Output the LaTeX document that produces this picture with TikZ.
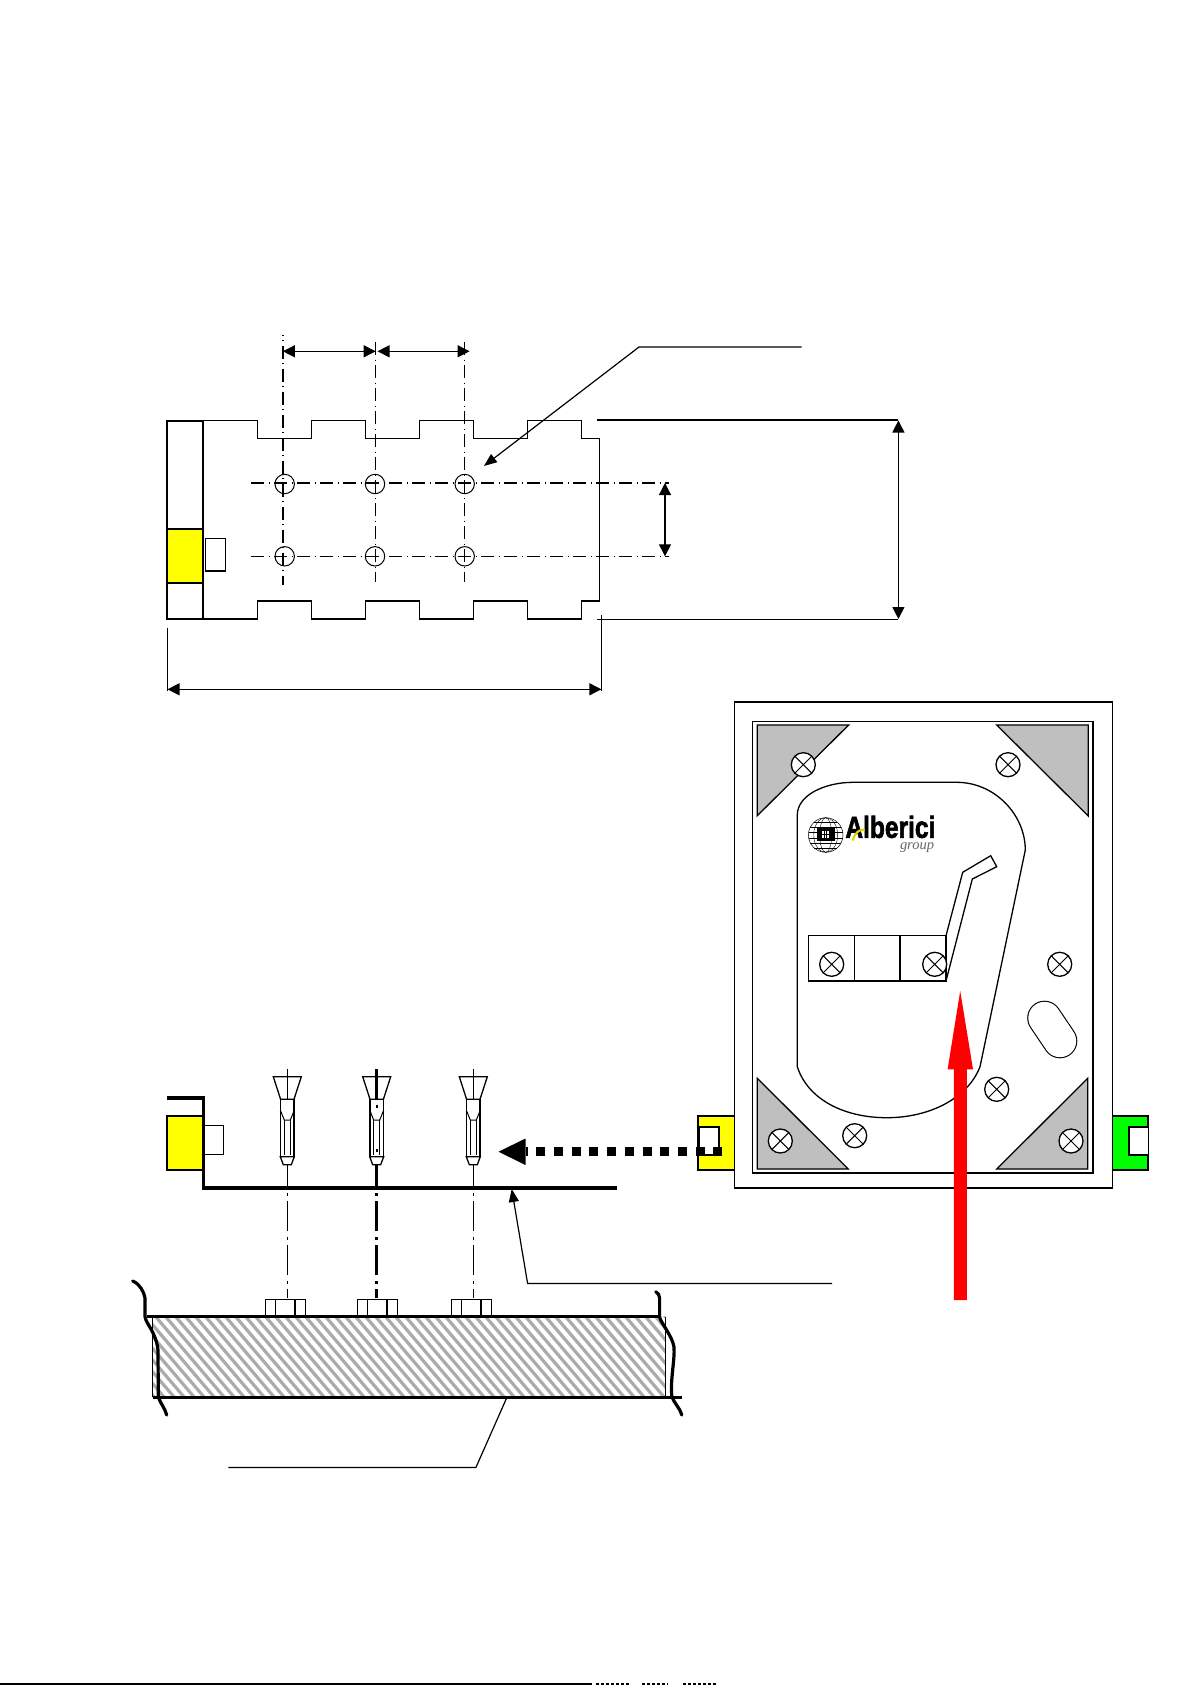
\documentclass[tikz,border=0pt]{standalone}
\usepackage{fontspec}
\setmainfont{Liberation Sans}
\newfontfamily\logoserif{Liberation Serif}
\newfontfamily\logobold[FakeBold=2.2]{Liberation Sans Bold}
\usetikzlibrary{arrows.meta}
\definecolor{plategray}{HTML}{BFBFBF}
\definecolor{hatchgray}{HTML}{ABABAB}
\definecolor{tabyellow}{RGB}{255,255,0}
\definecolor{tabgreen}{RGB}{0,255,0}
\definecolor{markred}{RGB}{255,0,0}
\tikzset{
  thinln/.style={line width=0.5pt},
  medln/.style={line width=0.65pt},
  boxln/.style={line width=0.85pt},
  heavyln/.style={line width=1.8pt},
  axisln/.style={line width=0.45pt,dash pattern=on 15pt off 2.75pt on 1.5pt off 2.75pt},
  gridaxis/.style={dash pattern=on 6.5pt off 2.25pt on 0.5pt off 2.25pt},
  dimarrow/.style={line width=0.6pt,{Triangle[length=6pt,width=6pt]}-{Triangle[length=6pt,width=6pt]}},
  leadarrow/.style={line width=0.6pt,-{Triangle[length=6.5pt,width=5pt]}},
  breakln/.style={line width=1.6pt,line cap=round,line join=round},
}
\newcommand{\xscrew}[2]{%
  \draw[medln,fill=white] (#1,#2) circle[radius=12];
  \draw[thinln] (#1-8.5,#2-8.5) -- (#1+8.5,#2+8.5) (#1-8.5,#2+8.5) -- (#1+8.5,#2-8.5);
}
\newcommand{\holemark}[2]{\draw[thinln] (#1,#2) circle[radius=9.7];}
\newcommand{\boltanchor}[1]{%
  \begin{scope}[shift={(#1,0)}]
    \draw[medln] (-14,1076.7) -- (14,1076.7) -- (6.7,1099.3) -- (-6.7,1099.3) -- cycle;
    \draw[medln,fill=white] (-6.7,1099.3) -- (6.7,1099.3) -- (6.7,1156.7) -- (-6.7,1156.7) -- cycle;
    \draw[thinln] (-6.7,1111) -- (-3,1120) -- (3,1120) -- (6.7,1111);
    \draw[thinln] (-3,1120) -- (-3,1155) (3,1120) -- (3,1155);
    \draw[thinln] (-7,1111) -- (-6,1113) (7,1111) -- (6,1113);
    \draw[medln,fill=white] (-7,1156.7) -- (7,1156.7) -- (4,1164.7) -- (-4,1164.7) -- cycle;
  \end{scope}
}
\newcommand{\nutblock}[1]{%
  \draw[medln] (#1,1316.7) -- (#1,1299.3) -- (#1+40,1299.3) -- (#1+40,1316.7);
  \draw[medln] (#1+10,1299.3) -- (#1+10,1316.7);
  \draw[boxln] (#1+30,1299.3) -- (#1+30,1316.7);
}
\begin{document}
\begin{tikzpicture}[x=0.5pt,y=-0.5pt]
\useasboundingbox (0,0) rectangle (1191,1685);
\fill[white] (0,0) rectangle (1191,1685);

% ---------- top view
\draw[gridaxis,dash phase=6.25pt,line width=0.75pt] (282.9,335) -- (282.9,585);
\draw[gridaxis,dash phase=9.5pt,line width=0.75pt] (375.7,338) -- (375.7,582);
\draw[gridaxis,dash phase=9.5pt,line width=0.45pt] (464.3,338) -- (464.3,582);
\draw[gridaxis,line width=0.8pt] (251,483) -- (668.6,483);
\draw[gridaxis,line width=0.45pt] (251,556.3) -- (668.6,556.3);
\foreach \hx in {284.7,375,464.7} {\holemark{\hx}{484}\holemark{\hx}{556.3}}

\fill[tabyellow] (166.8,529.3) rectangle (203.2,582.7);
\draw[boxln] (166.8,420.7) rectangle (203.2,619);
\draw[boxln] (166.8,529.3) -- (203.2,529.3) (166.8,582.7) -- (203.2,582.7);
\draw[medln] (205.7,538.7) rectangle (225.7,571);
\draw[medln,line join=miter] (203.2,420.7) -- (257.5,420.7) |- (311.4,438.7) |- (365.4,420.7) |- (419.3,438.7) |- (473.2,420.7) |- (527.5,438.7) |- (581.4,420.7) |- (599.3,438.7)
  -- (599.3,601) -- (581.4,601) |- (527.5,619) |- (473.2,601) |- (419.3,619) |- (365.4,601) |- (311.4,619) |- (257.5,601) |- (203.2,619);

\coordinate (dimA) at (282.9,351.3);
\coordinate (dimB) at (375.7,351.3);
\coordinate (dimC) at (377.5,351.3);
\coordinate (dimD) at (469.6,351.3);
\draw[dimarrow] (dimA) -- (dimB);
\draw[dimarrow] (dimC) -- (dimD);

\coordinate (leadA) at (801.7,347);
\coordinate (leadB) at (639,347);
\coordinate (leadC) at (483.9,466);
\draw[leadarrow] (leadA) -- (leadB) -- (leadC);

\draw[line width=0.9pt] (597,419.7) -- (898,419.7);
\draw[thinln] (597,619.3) -- (898,619.3);
\coordinate (bigT) at (898.4,420.5);
\coordinate (bigB) at (898.4,619);
\draw[dimarrow] (bigT) -- (bigB);
\coordinate (hT) at (665,483);
\coordinate (hB) at (665,556.3);
\draw[dimarrow] (hT) -- (hB);

\draw[thinln] (167.5,627.7) -- (167.5,691);
\draw[boxln] (601.4,615) -- (601.4,691);
\coordinate (lenL) at (167.5,689.3);
\coordinate (lenR) at (601.4,689.3);
\draw[dimarrow] (lenL) -- (lenR);

% ---------- front panel
\fill[tabyellow] (698.3,1115.7) rectangle (734.7,1170);
\draw[boxln] (734.7,1115.7) -- (698.3,1115.7) -- (698.3,1170) -- (734.7,1170);
\draw[boxln,fill=white] (699,1126.7) rectangle (718.7,1154.7);
\fill[tabgreen] (1112,1115.7) rectangle (1148.3,1170);
\draw[boxln] (1112,1115.7) -- (1148.3,1115.7) -- (1148.3,1170) -- (1112,1170);
\draw[boxln,fill=white] (1148.3,1126.7) -- (1128.7,1126.7) -- (1128.7,1154.7) -- (1148.3,1154.7);

\draw[boxln] (734.5,701.7) rectangle (1112.4,1187.7);
\draw[medln] (752.3,721.7) rectangle (1093.3,1172.7);
\draw[boxln] (1093.3,721.7) -- (1093.3,1172.7) -- (752.3,1172.7);
\draw[medln,fill=plategray] (757.3,725) -- (848.7,725) -- (757.3,815.7) -- cycle;
\draw[medln,fill=plategray] (996.7,725) -- (1088.3,725) -- (1088.3,816) -- cycle;
\draw[medln,fill=plategray] (757.3,1078.3) -- (757.3,1169) -- (848.3,1169) -- cycle;
\draw[medln,fill=plategray] (1087.7,1078.3) -- (1087.7,1169) -- (996.7,1169) -- cycle;

\draw[medln] (797.3,1066.7) -- (797.3,815)
  .. controls (797.3,795) and (825,782.3) .. (853.3,782.3) -- (956.7,782.3)
  .. controls (995,782.3) and (1025.3,815) .. (1025.3,850)
  -- (987.7,1030) -- (980,1066.7)
  .. controls (968,1098) and (930,1117.7) .. (886.7,1117.7)
  .. controls (845,1117.7) and (808,1100) .. (797.3,1066.7);

\draw[medln] (808.7,935.7) rectangle (946,981);
\draw[medln] (854.3,935.7) -- (854.3,981) (900,935.7) -- (900,981);
\draw[medln] (946,935.7) -- (962.7,872.3) -- (990.7,855.7) -- (996.7,866.7) -- (972.3,879) -- (946,981);

\draw[line cap=round,double=white,double distance=16.2pt,line width=0.55pt] (1044.5,1018) -- (1060,1041);

\xscrew{803.3}{764.7}\xscrew{1008}{764.7}
\xscrew{831.7}{964.3}\xscrew{934.7}{964.3}\xscrew{1059.7}{964.3}
\xscrew{780.3}{1141}\xscrew{854.7}{1135.7}\xscrew{996.7}{1089.3}\xscrew{1071}{1141}

% ---------- logo
\draw[line width=0.25pt] (825.7,835) circle[radius=17.3];
\draw[line width=0.2pt] (825.7,835) ellipse[x radius=6,y radius=17.3];
\draw[line width=0.2pt] (825.7,835) ellipse[x radius=12,y radius=17.3];
\foreach \gy/\gw in {-13/11.4,-8/15.3,-3/17,3/17,8/15.3,13/11.4} {\draw[line width=0.2pt] (825.7-\gw,835+\gy) -- (825.7+\gw,835+\gy);}
\fill[black] (816.7,828) rectangle (835,841);
\fill[white] (822,831) rectangle (829,838);
\draw[black,line width=0.25pt] (824.3,831) -- (824.3,838) (826.7,831) -- (826.7,838) (822,834.5) -- (829,834.5);
\node[anchor=south west,inner sep=0pt] (logoname) at (845,838.5) {\resizebox{45pt}{11pt}{\logobold Alberici}};
\draw[tabyellow!85!black,line width=1.1pt,line cap=round] (853,840) .. controls (855,832) and (860,829) .. (864,830);
\node[anchor=center,inner sep=0pt,text=black!60] (logogroup) at (917,848) {\resizebox{17pt}{!}{\logoserif\itshape group}};

% ---------- side view
\draw[axisln,line width=0.45pt] (287.3,1069) -- (287.3,1298.3);
\draw[axisln,line width=1.6pt] (376.7,1069) -- (376.7,1298.3);
\draw[axisln,line width=0.45pt] (473.3,1069) -- (473.3,1298.3);
\boltanchor{287.3}\boltanchor{376.7}\boltanchor{473.3}
\fill (375.7,1104.7) rectangle (377.7,1107.7);
\fill (375.9,1148.7) rectangle (377.5,1151.7);

\fill[tabyellow] (166.7,1116) rectangle (202.7,1170);
\draw[boxln] (202.7,1116) -- (166.7,1116) -- (166.7,1170) -- (202.7,1170);
\draw[medln,fill=white] (203.3,1125.7) rectangle (223.3,1154.3);
\draw[heavyln,line join=miter] (167,1098) -- (203.3,1098) -- (203.3,1187.7) -- (616.8,1187.7);

\coordinate (panelA) at (832,1283.5);
\coordinate (panelB) at (527.6,1283.5);
\coordinate (panelC) at (511.7,1189);
\draw[leadarrow] (panelA) -- (panelB) -- (panelC);

% ---------- base block
\begin{scope}
  \clip (152.5,1316.7) rectangle (665.3,1397.3);
  \foreach \hxx in {60,70,...,680} {\draw[hatchgray,line width=1.6pt] (\hxx,1310) -- (\hxx+80,1404);}
\end{scope}
\draw[thinln] (152.5,1316.7) -- (152.5,1397.3) (665.3,1316.7) -- (665.3,1397.3);
\nutblock{265.3}\nutblock{357.3}\nutblock{451.3}
\draw[line width=1.5pt] (146.7,1316.7) -- (659.6,1316.7);
\draw[line width=1.6pt] (152.5,1397.3) -- (681.8,1397.3);
\draw[breakln] (132.7,1281) .. controls (140,1284) and (144,1292) .. (145,1298)
  -- (145,1316.7) .. controls (146,1324) and (156,1332) .. (158,1350)
  -- (158.3,1396.7) .. controls (160,1403) and (165,1408) .. (166.7,1415);
\draw[breakln] (655.8,1291.7) .. controls (658,1293) and (659.6,1295) .. (659.6,1298)
  -- (659.6,1316.7) .. controls (660,1322) and (672,1335) .. (674,1347)
  .. controls (675,1360) and (670,1380) .. (671.9,1396.7)
  .. controls (674,1403) and (680,1408) .. (681.8,1415);
\coordinate (baseA) at (506.5,1398.3);
\coordinate (baseB) at (475.9,1467.5);
\coordinate (baseC) at (228.3,1467.5);
\draw[line width=0.6pt] (baseA) -- (baseB) -- (baseC);

% ---------- insertion arrows
\coordinate (dotA) at (722.3,1151.7);
\coordinate (dotB) at (526,1151.7);
\coordinate (dotTip) at (498.5,1151.7);
\draw[line width=4.35pt,dash pattern=on 4.5pt off 4.35pt] (dotA) -- (dotB);
\fill (dotTip) -- (525.5,1138.5) -- (525.5,1165) -- cycle;
\fill[markred] (953.8,1300) -- (953.8,1069.3) -- (947.6,1069.3) -- (960.2,991) -- (973,1069.3) -- (966.8,1069.3) -- (966.8,1300) -- cycle;

% ---------- page edge
\draw[line width=1pt] (0,1684) -- (592,1684);
\draw[line width=1pt,dash pattern=on 1.5pt off 1pt] (596,1684) -- (630,1684) (642,1684) -- (668,1684) (683,1684) -- (716,1684);
\end{tikzpicture}
\end{document}
